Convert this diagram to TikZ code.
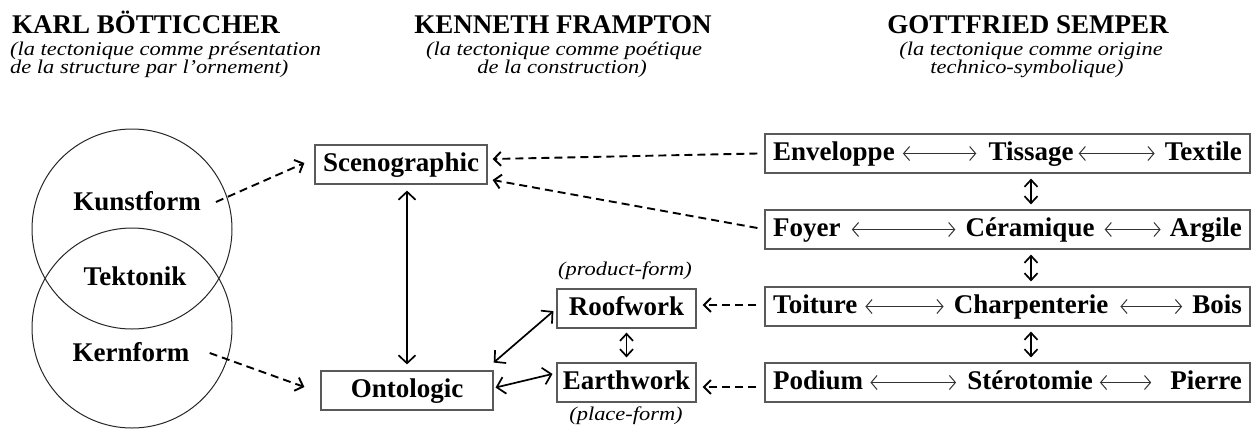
\documentclass[tikz,border=0pt]{standalone}
\usepackage{fontspec}
\setmainfont{Liberation Serif}
\newfontfamily\widefont{Liberation Serif}[FakeStretch=1.15]
\usetikzlibrary{arrows.meta}

\begin{document}
\begin{tikzpicture}[x=1pt,y=-1pt,
  hdr/.style={font=\fontsize{27}{30}\selectfont\bfseries, inner sep=0pt, anchor=base},
  sub/.style={font=\widefont\fontsize{19.5}{22}\selectfont\itshape, inner sep=0pt, anchor=base},
  word/.style={font=\fontsize{27}{30}\selectfont\bfseries, inner sep=0pt,
    text height=19pt, text depth=6pt, anchor=base},
  box/.style={draw=black!65, line width=1.2pt, inner sep=0pt, minimum height=39pt,
    text height=19pt, text depth=6pt, font=\fontsize{27}{30}\selectfont\bfseries},
  ring/.style={circle, draw=black!85, line width=1pt, minimum size=200pt, inner sep=0pt},
  dasharr/.style={line width=1.9pt, dash pattern=on 8pt off 5pt,
    -{Straight Barb[length=7pt,width=14pt]}},
  bigarr/.style={line width=1.7pt,
    {Straight Barb[length=8pt,width=17pt]}-{Straight Barb[length=8pt,width=17pt]}},
  smallarr/.style={line width=1.7pt,
    {Straight Barb[length=7pt,width=13pt]}-{Straight Barb[length=7pt,width=13pt]}},
  thinarr/.style={line width=1pt, draw=black!80,
    {Straight Barb[length=6pt,width=14pt]}-{Straight Barb[length=6pt,width=14pt]}},
]
\useasboundingbox (0,0) rectangle (1252,432);

% column headings
\node[hdr, anchor=base west] (hb) at (12,33) {KARL BÖTTICCHER};
\node[sub, anchor=base west] (hb1) at (10,55) {(la tectonique comme présentation};
\node[sub, anchor=base west] (hb2) at (10,73) {de la structure par l’ornement)};

\node[hdr] (hf) at (563,33) {KENNETH FRAMPTON};
\node[sub] (hf1) at (564,55) {(la tectonique comme poétique};
\node[sub] (hf2) at (562,73) {de la construction)};

\node[hdr] (hs) at (1028,33) {GOTTFRIED SEMPER};
\node[sub] (hs1) at (1031,55) {(la tectonique comme origine};
\node[sub] (hs2) at (1027,73) {technico-symbolique)};

% Bötticher: two overlapping circles
\node[ring] (cup) at (132,229) {};
\node[ring] (cdown) at (132,328) {};
\node[word] (kunst) at (137,210) {Kunstform};
\node[word] (tekt) at (135,285) {Tektonik};
\node[word] (kern) at (131,361) {Kernform};

% Frampton
\node[box, minimum width=172pt] (sceno) at (401,164.5) {Scenographic};
\node[box, minimum width=172pt] (onto) at (407,390.5) {Ontologic};
\node[box, minimum width=139pt] (roof) at (626.5,308.5) {Roofwork};
\node[box, minimum width=139pt] (earth) at (626.5,382.5) {Earthwork};
\node[sub] (prodf) at (625,275) {(product-form)};
\node[sub] (placef) at (626,420) {(place-form)};

% Semper: four rows
\node[box, minimum width=485pt] (b1) at (1007.5,153.5) {};
\node[box, minimum width=485pt] (b2) at (1007.5,229.5) {};
\node[box, minimum width=485pt] (b3) at (1007.5,306.5) {};
\node[box, minimum width=485pt] (b4) at (1007.5,382.5) {};

\node[word, anchor=base west] (env) at (773,160) {Enveloppe};
\node[word] (tis) at (1031,160) {Tissage};
\node[word, anchor=base east] (tex) at (1242,160) {Textile};

\node[word, anchor=base west] (foy) at (773,236) {Foyer};
\node[word] (cer) at (1030,236) {Céramique};
\node[word, anchor=base east] (arg) at (1242,236) {Argile};

\node[word, anchor=base west] (toi) at (773,313) {Toiture};
\node[word] (cha) at (1031,313) {Charpenterie};
\node[word, anchor=base east] (boi) at (1242,313) {Bois};

\node[word, anchor=base west] (pod) at (773,389) {Podium};
\node[word] (ste) at (1030,389) {Stérotomie};
\node[word, anchor=base east] (pie) at (1242,389) {Pierre};

% links inside the rows
\draw[thinarr, shorten <=8pt, shorten >=12pt] (env.east) -- (tis.west);
\draw[thinarr, shorten <=5pt, shorten >=10pt] (tis.east) -- (tex.west);
\draw[thinarr, shorten <=11pt, shorten >=10pt] (foy.east) -- (cer.west);
\draw[thinarr, shorten <=10pt, shorten >=9pt] (cer.east) -- (arg.west);
\draw[thinarr, shorten <=8pt, shorten >=10pt] (toi.east) -- (cha.west);
\draw[thinarr, shorten <=12pt, shorten >=10pt] (cha.east) -- (boi.west);
\draw[thinarr, shorten <=7pt, shorten >=11pt] (pod.east) -- (ste.west);
\draw[thinarr, shorten <=7pt, shorten >=19pt] (ste.east) -- (pie.west);

% links between the rows
\draw[smallarr, shorten <=5pt, shorten >=5pt] (tis |- b1.south) -- (tis |- b2.north);
\draw[smallarr, shorten <=5pt, shorten >=5pt] (tis |- b2.south) -- (tis |- b3.north);
\draw[smallarr, shorten <=5pt, shorten >=5pt] (tis |- b3.south) -- (tis |- b4.north);

% Frampton links
\draw[bigarr, shorten <=6pt, shorten >=6pt] (onto |- sceno.south) -- (onto.north);
\draw[smallarr, shorten <=4pt, shorten >=5pt] (roof.south) -- (earth.north);
\draw[bigarr, shorten <=12pt, shorten >=4pt] ([xshift=-9pt]onto.north east) -- (roof.west);
\draw[bigarr, shorten <=2pt, shorten >=4pt] ([yshift=2.5pt]onto.east) -- ([yshift=9.5pt]earth.west);

% dashed influences
\draw[dasharr] ([xshift=15pt,yshift=1.5pt]kunst.east) -- ([xshift=-10pt,yshift=1.5pt]sceno.west);
\draw[dasharr] ([xshift=20pt,yshift=1.5pt]kern.east) -- ([xshift=-16pt,yshift=3.5pt]onto.west);
\draw[dasharr] ([xshift=-7pt]b1.west) -- ([xshift=5pt,yshift=5.5pt]sceno.east);
\draw[dasharr] ([xshift=-7pt,yshift=1.5pt]b2.west) -- ([xshift=5pt,yshift=-15.5pt]sceno.east);
\draw[dasharr] ([xshift=-8pt,yshift=1.5pt]b3.west) -- ([xshift=6pt,yshift=3.5pt]roof.east);
\draw[dasharr] ([xshift=-8pt,yshift=-4.5pt]b4.west) -- ([xshift=6pt,yshift=-4.5pt]earth.east);
\end{tikzpicture}
\end{document}
